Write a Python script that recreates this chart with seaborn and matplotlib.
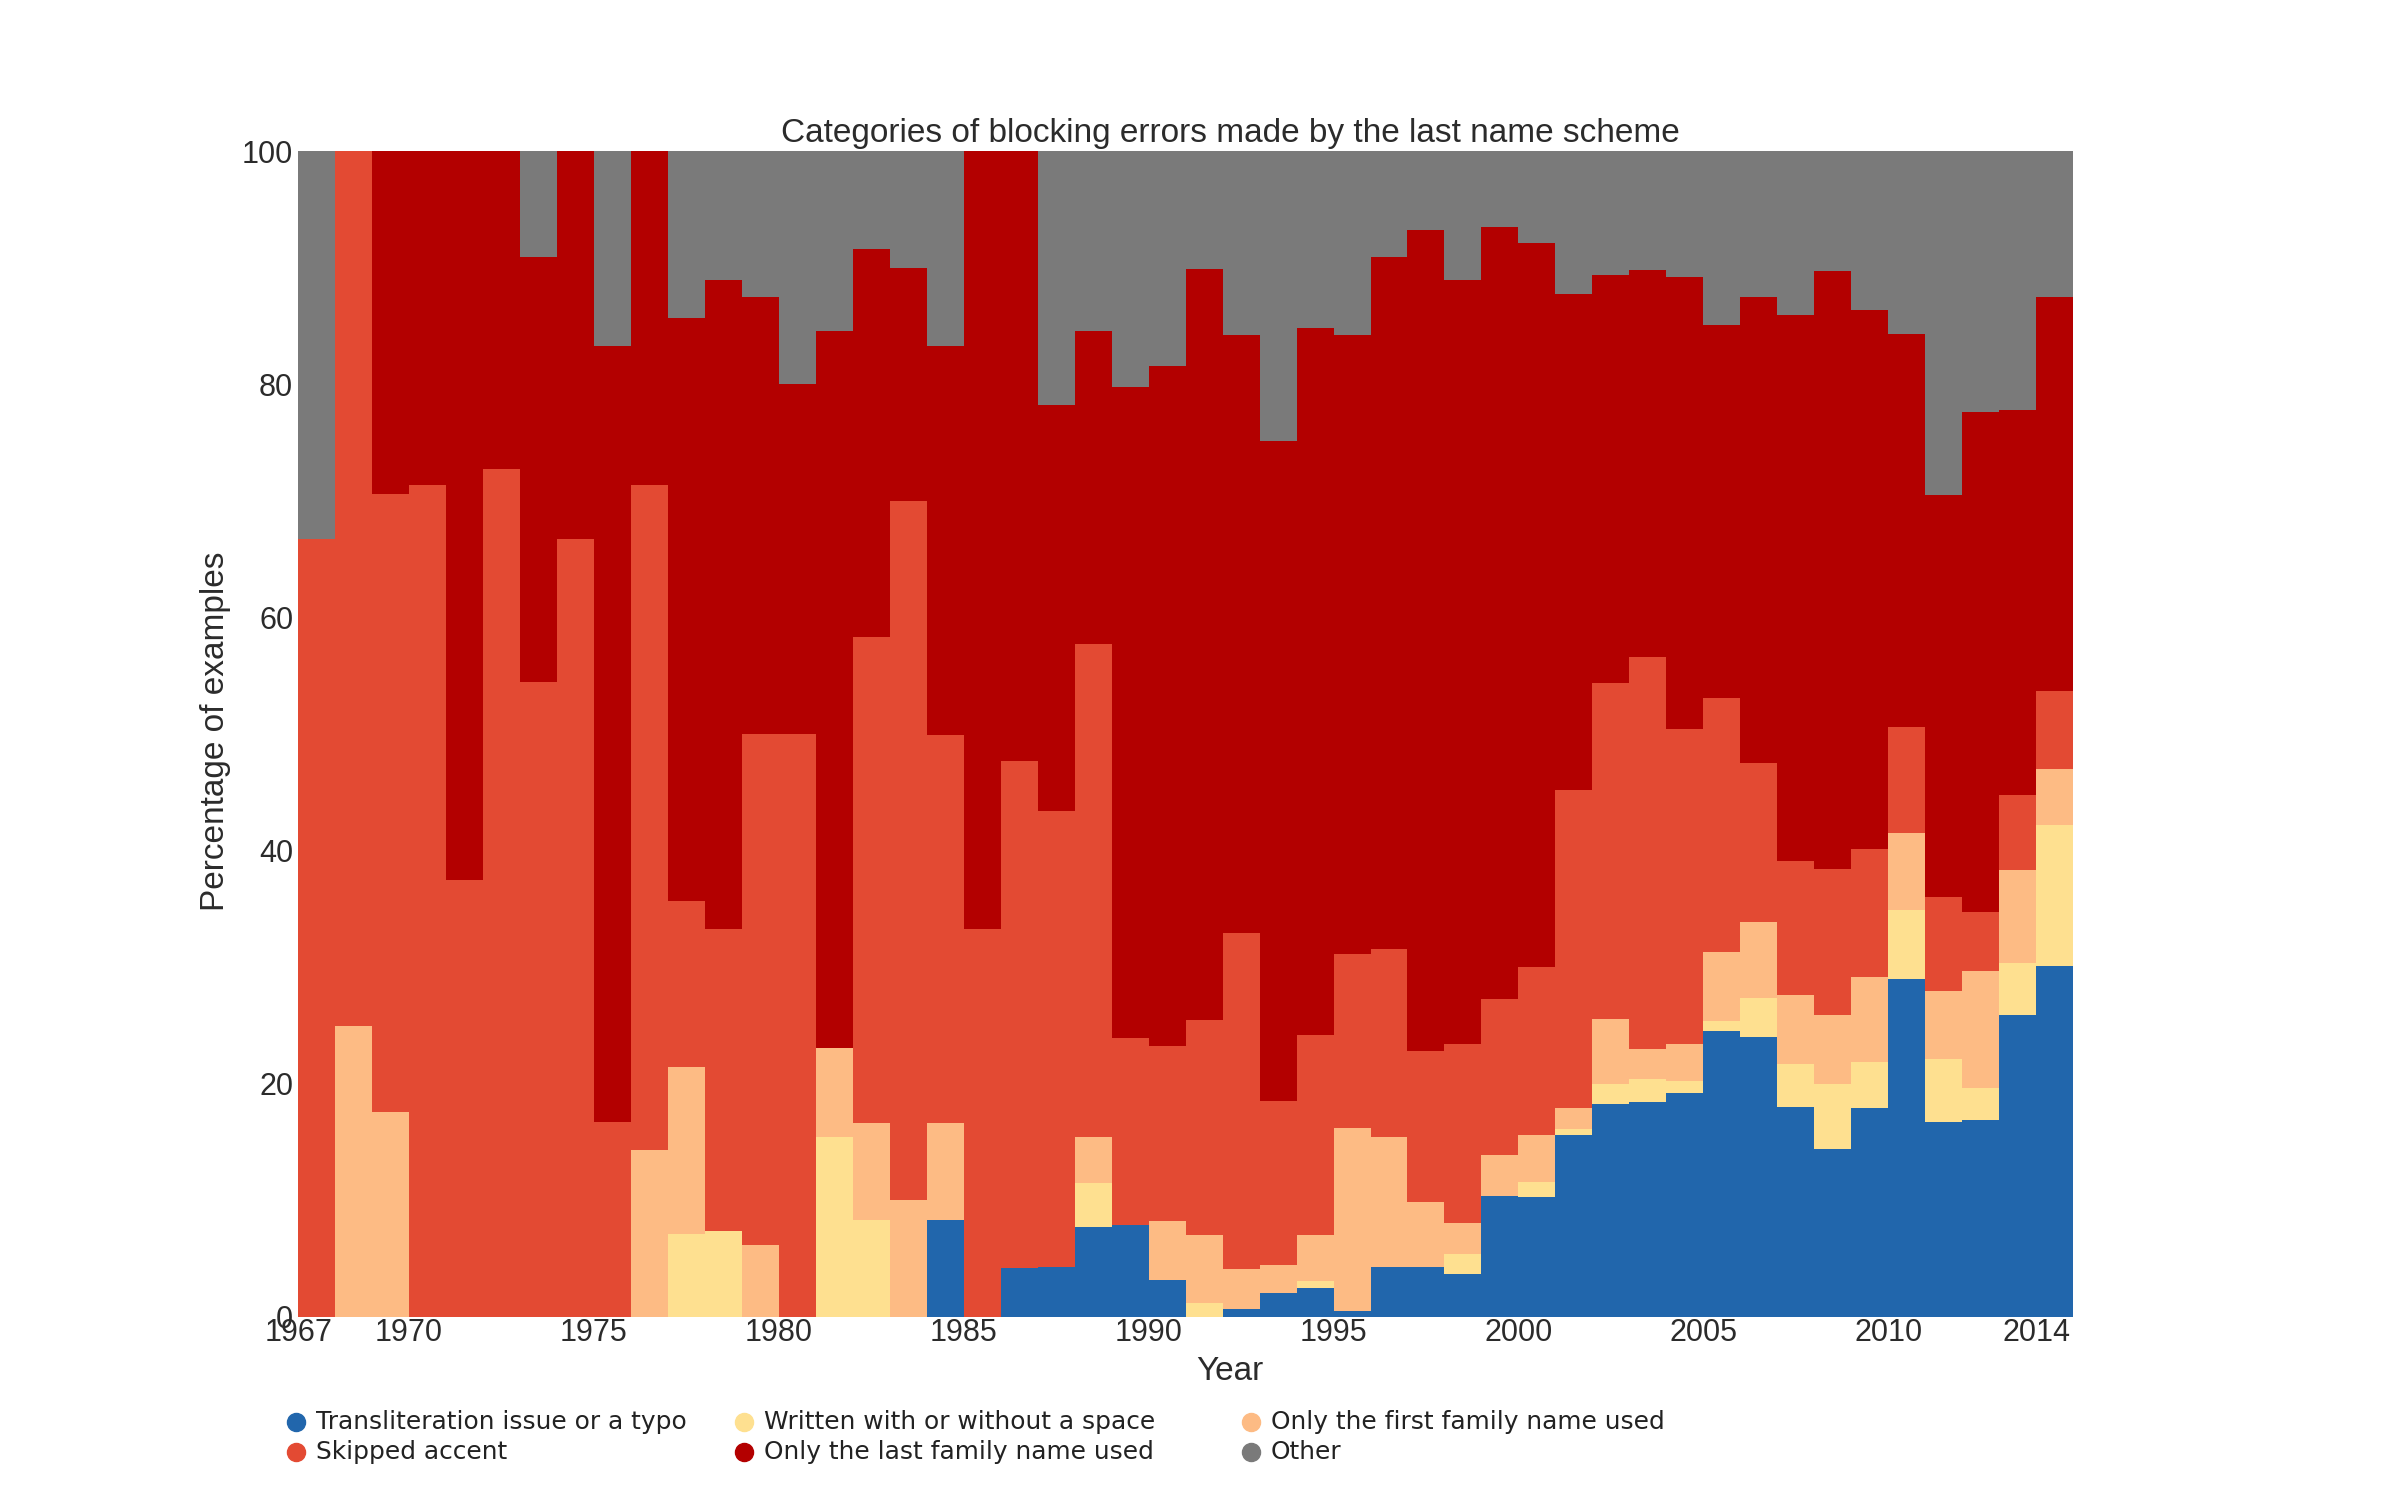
import numpy as np
import pandas as pd
import seaborn as sns
import matplotlib.pyplot as plt
from matplotlib.lines import Line2D

years = list(range(1967, 2015))

transliteration = [0, 0, 0, 0, 0, 0, 0, 0, 0, 0, 0, 0, 0, 0, 0, 0, 0, 8.3, 0, 4.2,
                   4.3, 7.7, 7.9, 3.2, 0, 0.7, 2.1, 2.5, 0.5, 4.3, 4.3, 3.7, 10.4, 10.3,
                   15.6, 18.3, 18.4, 19.2, 24.5, 24.0, 18.0, 14.4, 17.9, 29.0, 16.7, 16.9,
                   25.9, 30.1]
space = [0, 0, 0, 0, 0, 0, 0, 0, 0, 0, 7.1, 7.4, 0, 0, 15.4, 8.3, 0, 0, 0, 0,
         0, 3.8, 0, 0, 1.2, 0, 0, 0.6, 0, 0, 0, 1.7, 0, 1.3,
         0.5, 1.7, 2.0, 1.0, 0.9, 3.4, 3.7, 5.6, 4.0, 5.9, 5.4, 2.7,
         4.5, 12.1]
first_family = [0, 25.0, 17.6, 0, 0, 0, 0, 0, 0, 14.3, 14.3, 0, 6.2, 0, 7.7, 8.3, 10.0, 8.3, 0, 0,
                0, 3.9, 0, 5.0, 5.8, 3.4, 2.4, 3.9, 15.7, 11.1, 5.6, 2.7, 3.5, 4.0,
                1.8, 5.6, 2.6, 3.2, 5.9, 6.5, 5.9, 5.9, 7.3, 6.6, 5.9, 10.1,
                7.9, 4.8]
skipped_accent = [66.7, 75.0, 53.0, 71.4, 37.5, 72.7, 54.5, 66.7, 16.7, 57.1, 14.3, 25.9, 43.8, 50.0,
                  0, 41.7, 60.0, 33.3, 33.3, 43.5,
                  39.1, 42.3, 16.0, 15.0, 18.5, 28.8, 14.0, 17.2, 14.9, 16.2, 12.9, 15.3, 13.4, 14.4,
                  27.3, 28.8, 33.6, 27.0, 21.8, 13.6, 11.5, 12.5, 10.9, 9.1, 8.0, 5.0,
                  6.5, 6.7]
last_family = [0, 0, 29.4, 28.6, 62.5, 27.3, 36.4, 33.3, 66.6, 28.6, 50.0, 55.6, 37.5, 30.0,
               61.5, 33.3, 20.0, 33.4, 66.7, 52.3,
               34.8, 26.9, 55.9, 58.4, 64.4, 51.3, 56.6, 60.6, 53.1, 59.3, 70.4, 65.5, 66.2, 62.1,
               42.5, 35.0, 33.2, 38.8, 32.0, 40.0, 46.8, 51.3, 46.3, 33.7, 34.5, 42.9,
               33.0, 33.8]
other = [33.3, 0, 0, 0, 0, 0, 9.1, 0, 16.7, 0, 14.3, 11.1, 12.5, 20.0, 15.4, 8.4, 10.0, 16.7, 0, 0,
         21.8, 15.4, 20.2, 18.4, 10.1, 15.8, 24.9, 15.2, 15.8, 9.1, 6.8, 11.1, 6.5, 7.9,
         12.3, 10.6, 10.2, 10.8, 14.9, 12.5, 14.1, 10.3, 13.7, 15.7, 29.5, 22.4,
         22.2, 12.5]

categories = ["Transliteration issue or a typo", "Written with or without a space",
              "Only the first family name used", "Skipped accent",
              "Only the last family name used", "Other"]
series = [transliteration, space, first_family, skipped_accent, last_family, other]
colors = ["#2166ac", "#fee090", "#fdbb84", "#e34a33", "#b30000", "#7a7a7a"]
x_ticks = [1967, 1970, 1975, 1980, 1985, 1990, 1995, 2000, 2005, 2010, 2014]

rows = []
for cat, vals in zip(categories, series):
    for yr, v in zip(years, vals):
        rows.append((yr, cat, v))
df = pd.DataFrame(rows, columns=["Year", "Category", "Percentage"])

sns.set_style("white")
plt.rcParams["font.family"] = ["Liberation Sans", "DejaVu Sans"]
text_color = "#2b2b2b"

fig = plt.figure(figsize=(24, 15), dpi=100)
ax = fig.add_axes([0.1242, 0.122, 0.7396, 0.7773])

# seaborn stacks the last hue level at the bottom, so reverse the order
sns.histplot(data=df, x="Year", weights="Percentage", hue="Category",
             hue_order=categories[::-1], palette=dict(zip(categories, colors)),
             multiple="stack", binwidth=1, binrange=(years[0], years[-1] + 1),
             element="step", alpha=1, linewidth=0, legend=False, ax=ax)

ax.set_xlim(years[0], years[-1] + 1)
ax.set_ylim(0, 100)
ax.set_xticks(x_ticks)
ax.set_yticks(range(0, 101, 20))
ax.tick_params(axis="both", length=0, labelsize=22, labelcolor=text_color)
ax.tick_params(axis="y", pad=3.5)
ax.tick_params(axis="x", pad=1)
ax.set_xlabel("")
ax.set_ylabel("")
for s in ax.spines.values():
    s.set_visible(False)

fig.text(0.5125, 0.9113, "Categories of blocking errors made by the last name scheme",
         ha="center", va="center", fontsize=24, color=text_color)
fig.text(0.5125, 0.086, "Year", ha="center", va="center", fontsize=24, color=text_color)
fig.text(0.0896, 0.5127, "Percentage of examples", ha="center", va="center",
         rotation=90, fontsize=24, color=text_color)

# legend laid out like the original: three columns, two rows
col_x = [296 / 2400, 744 / 2400, 1251 / 2400]
row_y = [1 - 1422 / 1500, 1 - 1452 / 1500]
for i, (cat, c) in enumerate(zip(categories, colors)):
    cx = col_x[i % 3]
    cy = row_y[i // 3]
    fig.add_artist(Line2D([cx], [cy], marker="o", ms=13, color=c, lw=0,
                          transform=fig.transFigure))
    fig.text(cx + 20 / 2400, cy, cat, ha="left", va="center", fontsize=17.9,
             family=["DejaVu Sans"], color="#222222")

plt.savefig("out.png", dpi=100)
